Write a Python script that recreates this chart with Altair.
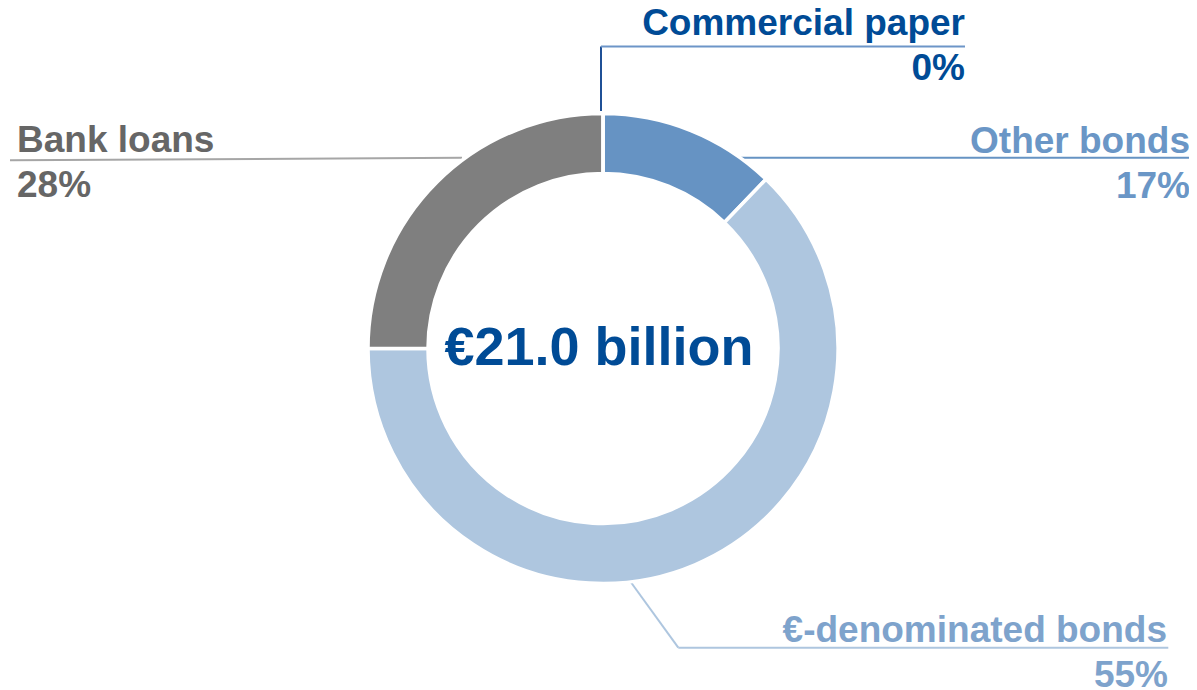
import altair as alt
import pandas as pd

# ---- data ----
segments = ["Other bonds", "€-denominated bonds", "Bank loans", "Commercial paper"]
arc_share = [12.2, 62.8, 25.0, 0.0]          # visual share of the ring
pct_labels = ["17%", "55%", "28%", "0%"]      # printed labels
seg_colors = ["#6693C3", "#AEC6DF", "#7F7F7F", "#004B96"]
text_colors = ["#6A96C6", "#7EA3CC", "#666666", "#004B96"]
center_label = "€21.0 billion"

# ---- layout (chart pixel coordinates, page minus 8px margin) ----
W, H = 1181, 682
CX, CY = 595, 340.5
label_x = [1182, 1159, 9, 957]
label_align = ["right", "right", "left", "right"]
name_y = [145.3, 633.7, 143.7, 27]
pct_y = [190.3, 678.7, 188.7, 72]
pct_x = [1182, 1160, 9, 957]

leader = pd.DataFrame({
    "x":  [733, 2, 622, 670.3, 593, 593],
    "y":  [149.7, 152.3, 573, 639.7, 103, 38.5],
    "x2": [1184, 454, 670.3, 1160.3, 593, 957],
    "y2": [149.7, 149.7, 639.7, 639.7, 38.5, 38.5],
    "c":  ["#6693C3", "#A6A6A6", "#AEC6DF", "#AEC6DF", "#1F5096", "#6D95C8"],
})

arc_df = pd.DataFrame({
    "segment": segments, "value": arc_share,
    "color": seg_colors, "ord": list(range(len(segments))),
})

names_df = pd.DataFrame({
    "text": segments, "x": label_x, "y": name_y,
    "align": label_align, "color": text_colors,
})
pcts_df = pd.DataFrame({
    "text": pct_labels, "x": pct_x, "y": pct_y,
    "align": label_align, "color": text_colors,
})

FONT = "Liberation Sans"

arc = alt.Chart(arc_df).mark_arc(
    outerRadius=235, innerRadius=175, stroke="white", strokeWidth=3.5
).encode(
    theta=alt.Theta("value:Q", stack=True),
    color=alt.Color("color:N", scale=None),
    order=alt.Order("ord:Q"),
    x=alt.value(CX), y=alt.value(CY),
)

lines = alt.Chart(leader).mark_rule(strokeWidth=2).encode(
    x=alt.X("x:Q", scale=None), y=alt.Y("y:Q", scale=None),
    x2="x2:Q", y2="y2:Q",
    color=alt.Color("c:N", scale=None),
)

def text_layer(df, align):
    sub = df[df["align"] == align]
    return alt.Chart(sub).mark_text(
        font=FONT, fontSize=37, fontWeight="bold", align=align, baseline="alphabetic"
    ).encode(
        x=alt.X("x:Q", scale=None), y=alt.Y("y:Q", scale=None),
        text="text:N", color=alt.Color("color:N", scale=None),
    )

center = alt.Chart(pd.DataFrame({"t": [center_label]})).mark_text(
    font=FONT, fontSize=54, fontWeight="bold", align="center",
    baseline="alphabetic", color="#004B96",
).encode(text="t:N", x=alt.value(591), y=alt.value(357))

chart = alt.layer(
    lines, arc,
    text_layer(names_df, "right"), text_layer(names_df, "left"),
    text_layer(pcts_df, "right"), text_layer(pcts_df, "left"),
    center,
).properties(
    width=W, height=H, padding=0,
    autosize=alt.AutoSizeParams(type="none"),
).configure_view(stroke=None)

chart.save("out.html", embed_options={"renderer": "svg", "actions": False})
